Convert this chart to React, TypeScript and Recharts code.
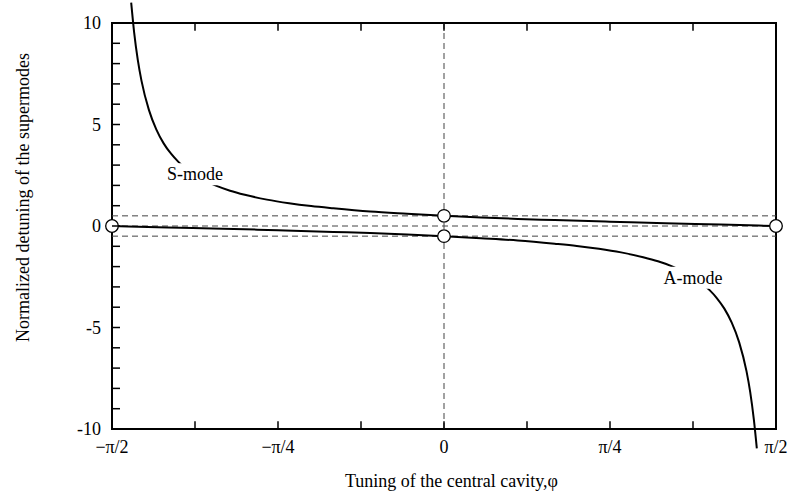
import React from 'react';
import {
  ComposedChart, Line, Scatter, XAxis, YAxis, ReferenceLine, ReferenceArea, ReferenceDot,
} from 'recharts';

// Tuning phi in degrees (-90 = -π/2, 90 = π/2)
const sModePhi = [-84.8, -84, -83, -82, -80, -78, -76, -74, -72, -70, -66, -62, -58, -54, -48, -42, -36, -30, -20, -10, 0, 10, 20, 30, 45, 60, 75, 90];
const sModeValues = [11.0, 9.54, 8.17, 7.15, 5.72, 4.76, 4.07, 3.56, 3.16, 2.84, 2.35, 2.0, 1.74, 1.54, 1.3, 1.12, 0.98, 0.87, 0.71, 0.6, 0.5, 0.42, 0.35, 0.29, 0.21, 0.13, 0.07, 0];

const aModePhi = [-90, -75, -60, -45, -30, -20, -10, 0, 10, 20, 30, 36, 42, 48, 54, 58, 62, 66, 70, 72, 74, 76, 78, 80, 82, 83, 84, 84.8];
const aModeValues = [0, -0.07, -0.13, -0.21, -0.29, -0.35, -0.42, -0.5, -0.6, -0.71, -0.87, -0.98, -1.12, -1.3, -1.54, -1.74, -2.0, -2.35, -2.84, -3.16, -3.56, -4.07, -4.76, -5.72, -7.15, -8.17, -9.54, -10.95];

const markerPhi = [-90, 0, 0, 90];
const markerValues = [0, 0.5, -0.5, 0];

const xTickValues = [-90, -45, 0, 45, 90];
const xTickLabels = ['\u2212\u03c0/2', '\u2212\u03c0/4', '0', '\u03c0/4', '\u03c0/2'];
const xMinorTicks = [-67.5, -45, -22.5, 0, 22.5, 45, 67.5];
const yTickValues = [-10, -9, -8, -7, -6, -5, -4, -3, -2, -1, 0, 1, 2, 3, 4, 5, 6, 7, 8, 9, 10];
const dashedLevels = [0.5, 0, -0.5];

const sData = sModePhi.map((x, i) => ({ x, y: sModeValues[i] }));
const aData = aModePhi.map((x, i) => ({ x, y: aModeValues[i] }));
const markers = markerPhi.map((x, i) => ({ x, y: markerValues[i] }));

const FONT = '"Liberation Serif", "Times New Roman", serif';
const Y_MIN = -10.985;
const Y_MAX = 11.133;
const TICK_LEN = 0.38; // in data units of y

const LeftTick = (props: any) => {
  const { x, y, payload } = props;
  const v = payload.value;
  return (
    <g>
      <line x1={x} x2={x + 8} y1={y} y2={y} stroke="#000" strokeWidth={1.5} />
      {v % 5 === 0 && (
        <text x={x - 11} y={y} textAnchor="end" dominantBaseline="central" fontFamily={FONT} fontSize={18} fill="#000">
          {String(v)}
        </text>
      )}
    </g>
  );
};

const RightTick = (props: any) => {
  const { x, y } = props;
  return <line x1={x - 8} x2={x} y1={y} y2={y} stroke="#000" strokeWidth={1.5} />;
};

const BottomTick = (props: any) => {
  const { x, y, payload } = props;
  const idx = xTickValues.indexOf(payload.value);
  return (
    <text x={x} y={y - 2} textAnchor="middle" dominantBaseline="central" fontFamily={FONT} fontSize={18} fill="#000">
      {xTickLabels[idx]}
    </text>
  );
};

const ModeLabel = (text: string) => (props: any) => {
  const { cx, cy } = props;
  const w = text.length * 9.6;
  return (
    <g>
      <rect x={cx - w / 2 - 2} y={cy - 11} width={w + 4} height={22} fill="#fff" />
      <text x={cx} y={cy} textAnchor="middle" dominantBaseline="central" fontFamily={FONT} fontSize={18} fill="#000">
        {text}
      </text>
    </g>
  );
};

const MarkerShape = (props: any) => {
  const { cx, cy } = props;
  return <circle cx={cx} cy={cy} r={6.3} fill="#fff" stroke="#000" strokeWidth={1.3} />;
};

export default function App() {
  return (
    <div style={{ position: 'absolute', left: 0, top: 0 }}>
      <ComposedChart width={788} height={495} margin={{ top: 0, right: 12, bottom: 0, left: 0 }}>
        <XAxis
          dataKey="x"
          type="number"
          domain={[-90, 90]}
          ticks={xTickValues}
          axisLine={false}
          tickLine={false}
          tickSize={0}
          tickMargin={0}
          height={46}
          tick={BottomTick}
          interval={0}
          label={{
            content: (p: any) => {
              const vb = p.viewBox;
              return (
                <text x={vb.x + vb.width / 2 + 7.5} y={481} textAnchor="middle" dominantBaseline="central" fontFamily={FONT} fontSize={18} fill="#000">
                  Tuning of the central cavity,φ
                </text>
              );
            },
          }}
        />
        <YAxis
          yAxisId="l"
          type="number"
          domain={[Y_MIN, Y_MAX]}
          ticks={yTickValues}
          interval={0}
          axisLine={false}
          tickLine={false}
          tickSize={0}
          tickMargin={0}
          width={112}
          tick={LeftTick}
          label={{
            content: () => (
              <text x={23} y={197.5} transform="rotate(-90 23 197.5)" textAnchor="middle" dominantBaseline="central" fontFamily={FONT} fontSize={18} fill="#000">
                Normalized detuning of the supermodes
              </text>
            ),
          }}
        />
        <YAxis
          yAxisId="r"
          orientation="right"
          type="number"
          domain={[Y_MIN, Y_MAX]}
          ticks={yTickValues}
          interval={0}
          axisLine={false}
          tickLine={false}
          tickSize={0}
          tickMargin={0}
          width={0}
          tick={RightTick}
        />

        {dashedLevels.map((lv) => (
          <ReferenceLine
            key={'h' + lv}
            yAxisId="l"
            segment={[{ x: -90, y: lv }, { x: 90, y: lv }]}
            stroke="#444"
            strokeWidth={1}
            strokeDasharray="6 4"
          />
        ))}
        <ReferenceLine
          yAxisId="l"
          segment={[{ x: 0, y: -10 }, { x: 0, y: 10 }]}
          stroke="#444"
          strokeWidth={1}
          strokeDasharray="6 4"
        />

        {xMinorTicks.map((t) => (
          <ReferenceLine
            key={'tb' + t}
            yAxisId="l"
            segment={[{ x: t, y: -10 }, { x: t, y: -10 + TICK_LEN }]}
            stroke="#000"
            strokeWidth={1.5}
          />
        ))}
        {xMinorTicks.map((t) => (
          <ReferenceLine
            key={'tt' + t}
            yAxisId="l"
            segment={[{ x: t, y: 10 }, { x: t, y: 10 - TICK_LEN }]}
            stroke="#000"
            strokeWidth={1.5}
          />
        ))}

        <ReferenceArea yAxisId="l" x1={-90} x2={90} y1={-10} y2={10} fill="none" fillOpacity={0} stroke="#000" strokeWidth={2} />

        <Line yAxisId="l" data={sData} dataKey="y" type="monotone" stroke="#000" strokeWidth={2} dot={false} isAnimationActive={false} />
        <Line yAxisId="l" data={aData} dataKey="y" type="monotone" stroke="#000" strokeWidth={2} dot={false} isAnimationActive={false} />

        <ReferenceDot yAxisId="l" x={-67.5} y={2.55} r={0} shape={ModeLabel('S-mode')} />
        <ReferenceDot yAxisId="l" x={67.5} y={-2.55} r={0} shape={ModeLabel('A-mode')} />

        <Scatter yAxisId="l" data={markers} dataKey="y" shape={MarkerShape} isAnimationActive={false} />
      </ComposedChart>
    </div>
  );
}
